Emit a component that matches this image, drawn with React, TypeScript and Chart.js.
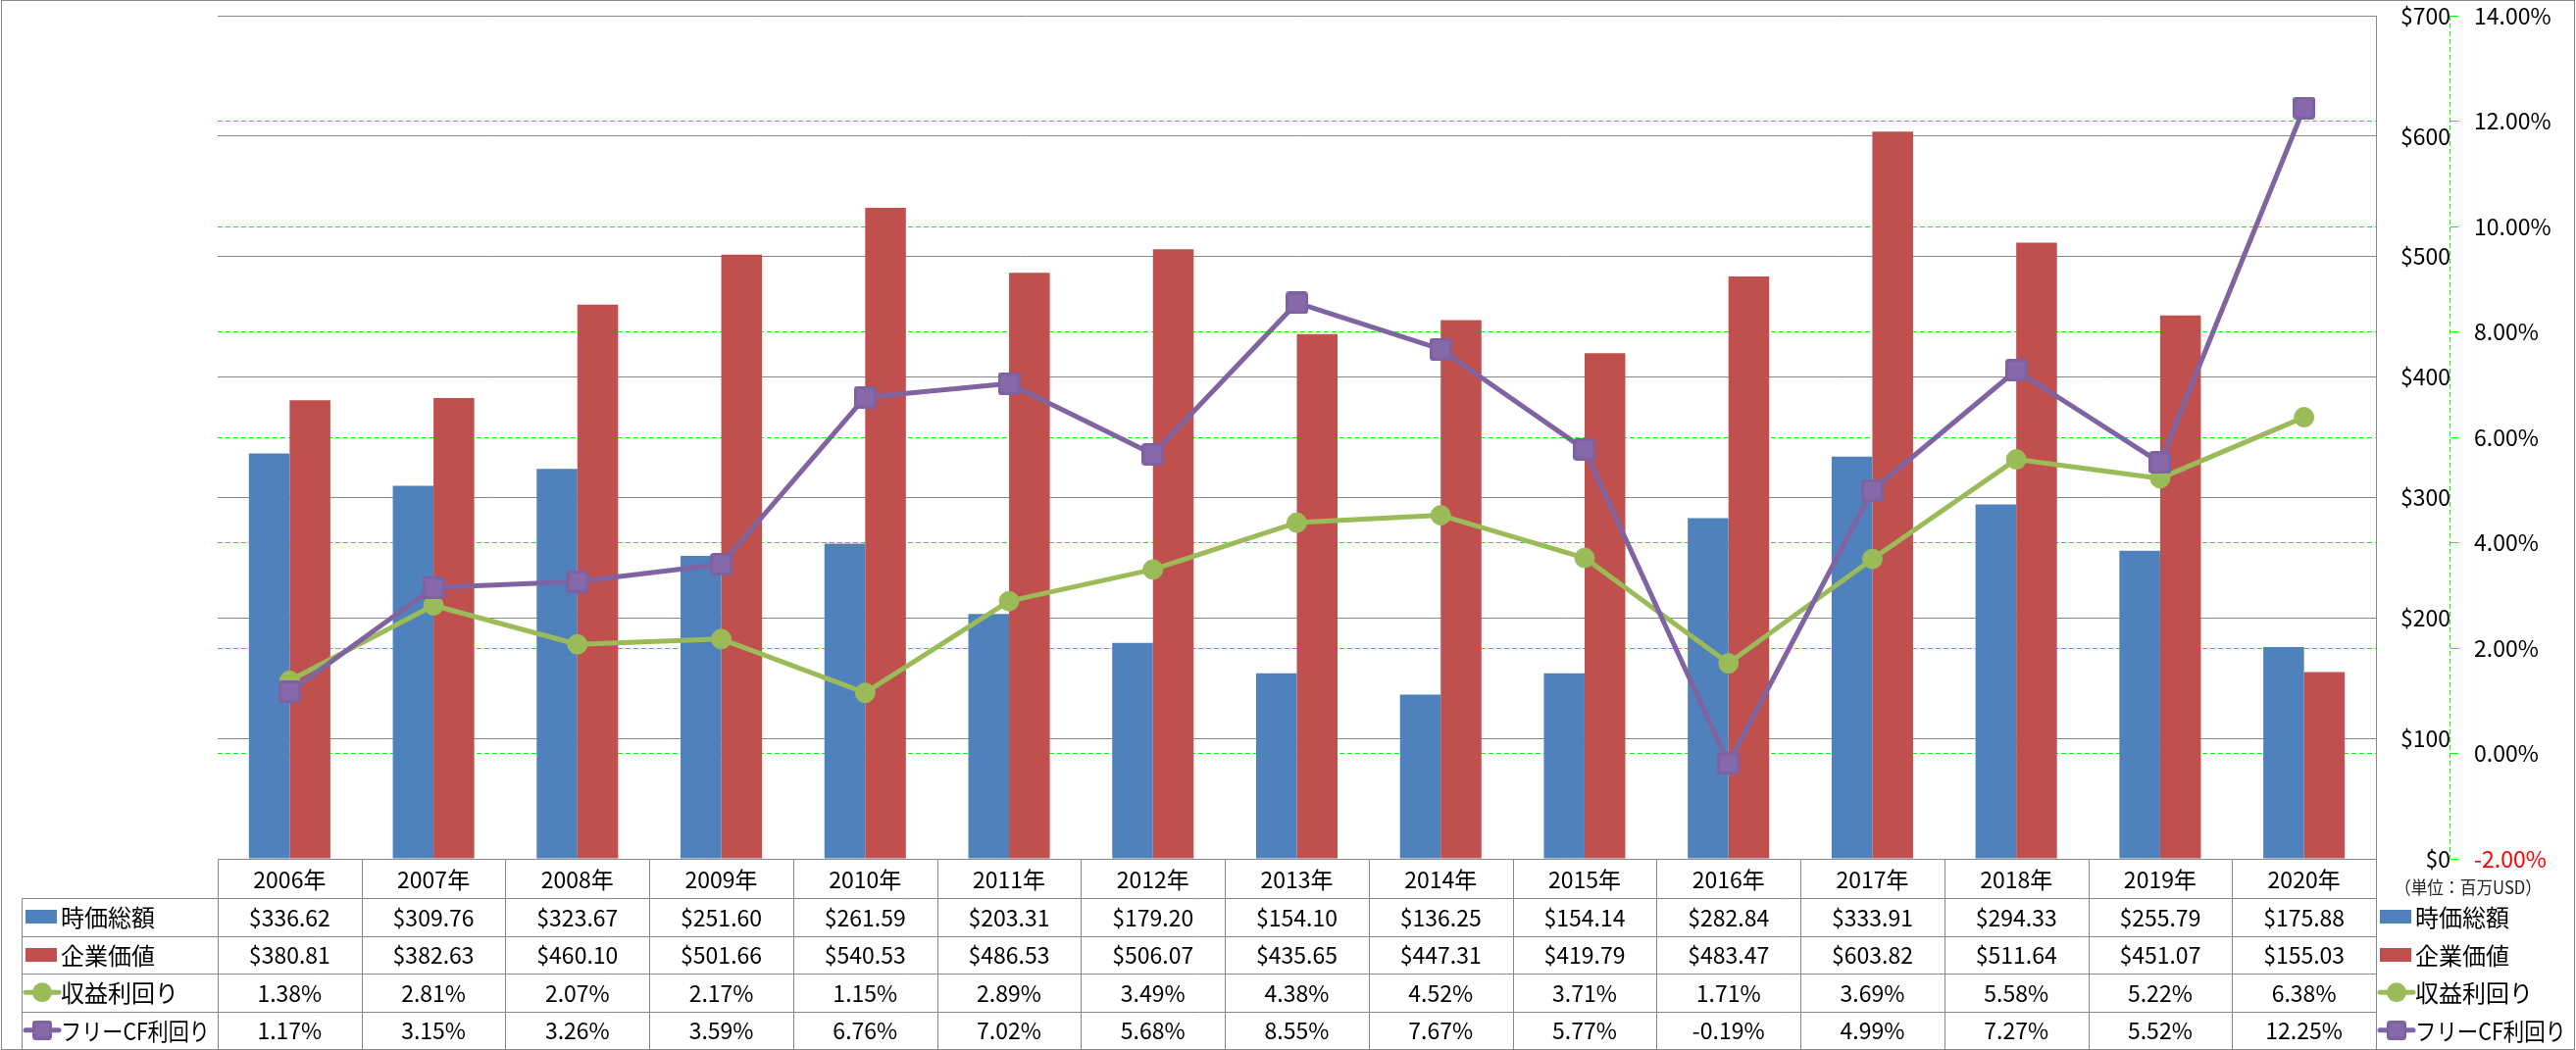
import React, { useEffect, useRef } from 'react';
import { Chart, registerables } from 'chart.js';

Chart.register(...registerables);

// ---------- data ----------
const categories = ['2006年', '2007年', '2008年', '2009年', '2010年', '2011年', '2012年', '2013年', '2014年', '2015年', '2016年', '2017年', '2018年', '2019年', '2020年'];
const seriesNames = ['時価総額', '企業価値', '収益利回り', 'フリーCF利回り'];
const marketCap = [336.62, 309.76, 323.67, 251.6, 261.59, 203.31, 179.2, 154.1, 136.25, 154.14, 282.84, 333.91, 294.33, 255.79, 175.88];
const enterpriseValue = [380.81, 382.63, 460.1, 501.66, 540.53, 486.53, 506.07, 435.65, 447.31, 419.79, 483.47, 603.82, 511.64, 451.07, 155.03];
const earningsYield = [1.38, 2.81, 2.07, 2.17, 1.15, 2.89, 3.49, 4.38, 4.52, 3.71, 1.71, 3.69, 5.58, 5.22, 6.38];
const fcfYield = [1.17, 3.15, 3.26, 3.59, 6.76, 7.02, 5.68, 8.55, 7.67, 5.77, -0.19, 4.99, 7.27, 5.52, 12.25];
const dollarTicks = [0, 100, 200, 300, 400, 500, 600, 700];
const percentTicks = [-2, 0, 2, 4, 6, 8, 10, 12, 14];
const unitLabel = '（単位：百万USD）';

// ---------- style ----------
const FONT = '"Noto Sans CJK JP", sans-serif';
const BLUE = '#4F81BD';
const RED = '#C0504D';
const GREEN = '#9BBB59';
const PURPLE = '#8064A2';
const GRID = '#878787';
const DASH_GREEN = '#00FF00';

function makeSquare(size: number): HTMLCanvasElement {
  const c = document.createElement('canvas');
  c.width = size;
  c.height = size;
  const g = c.getContext('2d')!;
  const rr = (x: number, y: number, w: number, h: number, rad: number) => {
    g.beginPath();
    g.moveTo(x + rad, y);
    g.lineTo(x + w - rad, y);
    g.quadraticCurveTo(x + w, y, x + w, y + rad);
    g.lineTo(x + w, y + h - rad);
    g.quadraticCurveTo(x + w, y + h, x + w - rad, y + h);
    g.lineTo(x + rad, y + h);
    g.quadraticCurveTo(x, y + h, x, y + h - rad);
    g.lineTo(x, y + rad);
    g.quadraticCurveTo(x, y, x + rad, y);
    g.closePath();
  };
  rr(0, 0, size, size, 3.5);
  g.fillStyle = '#7D61A0';
  g.fill();
  rr(3, 3, size - 6, size - 6, 1);
  g.fillStyle = '#8569A8';
  g.fill();
  return c;
}

export default function App() {
  const ref = useRef<HTMLCanvasElement>(null);

  useEffect(() => {
    document.body.style.margin = '0';
    const canvas = ref.current!;
    const square = makeSquare(23);
    const squareSmall = makeSquare(20);

    const seriesKinds = [
      { kind: 'bar', color: BLUE, fmt: (v: number) => '$' + v.toFixed(2), data: marketCap },
      { kind: 'bar', color: RED, fmt: (v: number) => '$' + v.toFixed(2), data: enterpriseValue },
      { kind: 'circle', color: GREEN, fmt: (v: number) => v.toFixed(2) + '%', data: earningsYield },
      { kind: 'square', color: PURPLE, fmt: (v: number) => v.toFixed(2) + '%', data: fcfYield },
    ];

    const drawKey = (ctx: CanvasRenderingContext2D, kind: string, color: string, x0: number, cy: number) => {
      if (kind === 'bar') {
        ctx.fillStyle = color;
        ctx.fillRect(x0, Math.round(cy) - 7, 32, 14);
        return;
      }
      ctx.strokeStyle = color;
      ctx.lineWidth = 5;
      ctx.lineCap = 'round';
      ctx.setLineDash([]);
      ctx.beginPath();
      ctx.moveTo(x0, cy);
      ctx.lineTo(x0 + 34, cy);
      ctx.stroke();
      const cx = x0 + 17;
      if (kind === 'circle') {
        ctx.fillStyle = color;
        ctx.beginPath();
        ctx.arc(cx, cy, 10, 0, Math.PI * 2);
        ctx.fill();
      } else {
        ctx.drawImage(squareSmall, cx - 10, cy - 10, 20, 20);
      }
    };

    const tablePlugin = {
      id: 'dataTable',
      afterDraw(chart: any) {
        const ctx: CanvasRenderingContext2D = chart.ctx;
        const a = chart.chartArea;
        const xs = chart.scales.x;
        const y1 = chart.scales.y1;
        const n = categories.length;
        const colW = (a.right - a.left) / n;
        const top = Math.round(a.bottom);
        const bottom = 1070;
        const headerH = 40;
        const rowH = (bottom - top - headerH) / seriesKinds.length;
        const rowY: number[] = [top, top + headerH];
        for (let r = 1; r <= seriesKinds.length; r++) rowY.push(top + headerH + r * rowH);
        const firstLeft = 22;
        const px = (v: number) => Math.round(v) + 0.5;

        ctx.save();
        // dashed axis line of the percentage axis
        ctx.strokeStyle = DASH_GREEN;
        ctx.lineWidth = 1;
        ctx.setLineDash([5, 3]);
        ctx.beginPath();
        ctx.moveTo(px(y1.left) - 1, y1.top);
        ctx.lineTo(px(y1.left) - 1, y1.bottom);
        ctx.stroke();
        ctx.setLineDash([]);

        // table grid
        ctx.strokeStyle = GRID;
        ctx.lineWidth = 1;
        ctx.beginPath();
        ctx.moveTo(a.left, px(top));
        ctx.lineTo(a.right, px(top));
        for (let r = 1; r < rowY.length; r++) {
          ctx.moveTo(firstLeft, px(rowY[r]));
          ctx.lineTo(a.right, px(rowY[r]));
        }
        ctx.moveTo(px(firstLeft), rowY[1]);
        ctx.lineTo(px(firstLeft), bottom);
        for (let i = 0; i <= n; i++) {
          const x = px(a.left + i * colW);
          ctx.moveTo(x, top);
          ctx.lineTo(x, bottom);
        }
        ctx.stroke();

        // header
        ctx.fillStyle = '#000';
        ctx.textAlign = 'center';
        ctx.textBaseline = 'middle';
        ctx.font = `23px ${FONT}`;
        categories.forEach((c, i) => {
          ctx.fillText(c, xs.getPixelForValue(i), (rowY[0] + rowY[1]) / 2 + 1);
        });
        // values
        seriesKinds.forEach((s, r) => {
          const cy = (rowY[r + 1] + rowY[r + 2]) / 2 + 1;
          s.data.forEach((v, i) => {
            ctx.fillText(s.fmt(v), xs.getPixelForValue(i), cy);
          });
        });
        // first column: keys + names
        seriesKinds.forEach((s, r) => {
          const cy = (rowY[r + 1] + rowY[r + 2]) / 2;
          drawKey(ctx, s.kind, s.color, 26, cy);
          ctx.fillStyle = '#000';
          ctx.textAlign = 'left';
          ctx.font = `24px ${FONT}`;
          ctx.fillText(seriesNames[r], 62, cy + 1, 152);
        });
        // right legend
        seriesKinds.forEach((s, r) => {
          const cy = (rowY[r + 1] + rowY[r + 2]) / 2;
          drawKey(ctx, s.kind, s.color, 2427, cy);
          ctx.fillStyle = '#000';
          ctx.textAlign = 'left';
          ctx.font = `24px ${FONT}`;
          ctx.fillText(seriesNames[r], 2463, cy + 1, 154);
        });
        // unit label
        ctx.fillStyle = '#222';
        ctx.font = `18px ${FONT}`;
        ctx.textAlign = 'left';
        ctx.fillText(unitLabel, 2442, 905, 150);
        // outer border
        ctx.strokeStyle = GRID;
        ctx.lineWidth = 1;
        ctx.strokeRect(1.5, 0.5, 2624, 1070);
        ctx.restore();
      },
    };

    const chart = new Chart(canvas, {
      type: 'bar',
      data: {
        labels: categories,
        datasets: [
          {
            type: 'bar',
            label: seriesNames[0],
            data: marketCap,
            backgroundColor: BLUE,
            yAxisID: 'y',
            order: 3,
            categoryPercentage: 0.566,
            barPercentage: 1,
          },
          {
            type: 'bar',
            label: seriesNames[1],
            data: enterpriseValue,
            backgroundColor: RED,
            yAxisID: 'y',
            order: 3,
            categoryPercentage: 0.566,
            barPercentage: 1,
          },
          {
            type: 'line',
            label: seriesNames[2],
            data: earningsYield,
            borderColor: GREEN,
            backgroundColor: GREEN,
            borderWidth: 5,
            tension: 0,
            borderJoinStyle: 'round',
            borderCapStyle: 'round',
            pointStyle: 'circle',
            pointRadius: 10,
            pointBorderWidth: 1,
            pointBorderColor: GREEN,
            pointBackgroundColor: GREEN,
            yAxisID: 'y1',
            order: 2,
          },
          {
            type: 'line',
            label: seriesNames[3],
            data: fcfYield,
            borderColor: PURPLE,
            backgroundColor: PURPLE,
            borderWidth: 5,
            tension: 0,
            borderJoinStyle: 'round',
            borderCapStyle: 'round',
            pointStyle: square,
            pointRadius: 11,
            yAxisID: 'y1',
            order: 1,
          },
        ] as any,
      },
      options: {
        responsive: false,
        animation: false,
        devicePixelRatio: 1,
        layout: { padding: { left: 222, top: 15, right: 0, bottom: 195 } },
        plugins: {
          legend: { display: false },
          tooltip: { enabled: false },
        },
        scales: {
          x: {
            display: false,
            offset: true,
          },
          y: {
            type: 'linear',
            position: 'right',
            weight: 0,
            min: dollarTicks[0],
            max: dollarTicks[dollarTicks.length - 1],
            afterFit: (s: any) => {
              s.width = 76;
              s.paddingTop = 0;
              s.paddingBottom = 0;
            },
            ticks: {
              stepSize: dollarTicks[1] - dollarTicks[0],
              callback: (v: any) => '$' + v,
              color: '#000',
              font: { family: FONT, size: 23 },
              crossAlign: 'far',
              padding: 20,
            },
            grid: { color: GRID, lineWidth: 1, drawTicks: false },
            border: { display: true, color: GRID, width: 1 },
          },
          y1: {
            type: 'linear',
            position: 'right',
            weight: 1,
            min: percentTicks[0],
            max: percentTicks[percentTicks.length - 1],
            afterFit: (s: any) => {
              s.width = 128;
              s.paddingTop = 0;
              s.paddingBottom = 0;
            },
            ticks: {
              stepSize: percentTicks[1] - percentTicks[0],
              callback: (v: any) => Number(v).toFixed(2) + '%',
              color: (c: any) => (c.tick && c.tick.value < 0 ? '#FF0000' : '#000'),
              font: { family: FONT, size: 23 },
              crossAlign: 'near',
              padding: 16,
            },
            grid: {
              color: (c: any) =>
                c.tick && (c.tick.value === percentTicks[0] || c.tick.value === percentTicks[percentTicks.length - 1])
                  ? 'rgba(0,0,0,0)'
                  : DASH_GREEN,
              lineWidth: 1,
              drawTicks: true,
              tickLength: 8,
              tickColor: DASH_GREEN,
              tickWidth: 1,
            },
            border: { display: false, color: DASH_GREEN, width: 1, dash: [5, 3] },
          },
        },
      } as any,
      plugins: [tablePlugin],
    });

    return () => chart.destroy();
  }, []);

  return (
    <canvas
      ref={ref}
      width={2627}
      height={1071}
      style={{ display: 'block', width: 2627, height: 1071 }}
    />
  );
}
